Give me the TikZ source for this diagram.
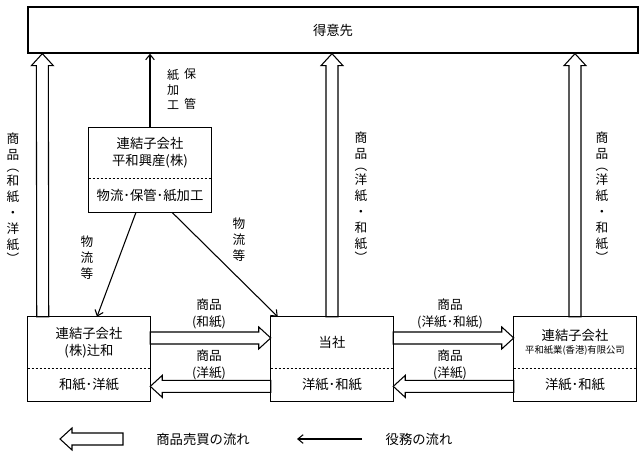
\documentclass[tikz,border=0pt]{standalone}
\usepackage{fontspec}
\setmainfont{Noto Sans CJK JP}
\usetikzlibrary{calc,arrows.meta}

\tikzset{
  part/.style={minimum width=91.5pt, inner sep=0pt, align=center},
  upper/.style={part, minimum height=38.25pt},
  lower/.style={part, minimum height=24.75pt, anchor=north},
  frame/.style={line width=1pt},
  divider/.style={line width=0.8pt, dash pattern=on 2pt off 1pt},
  service/.style={line width=0.8pt, -{Straight Barb[length=4pt,width=6.5pt]}},
  goods/.style={draw, fill=white, line width=0.8pt, line join=miter, to path={
    let \p1=(\tikztostart), \p2=(\tikztotarget),
        \n1={atan2(\y2-\y1,\x2-\x1)}, \n2={veclen(\x2-\x1,\y2-\y1)} in
    [shift={(\p1)}, rotate=\n1]
    (0pt,-4.5pt) -- ({(\n2-9)*1pt},-4.5pt) -- ({(\n2-9)*1pt},-8.25pt)
    -- ({\n2*1pt},0pt) -- ({(\n2-9)*1pt},8.25pt) -- ({(\n2-9)*1pt},4.5pt)
    -- (0pt,4.5pt) -- cycle}},
  lbl/.style={align=center, inner sep=0pt, font=\fontsize{9.5}{12}\selectfont},
}
\def\boxnode{\node[upper]}

\begin{document}
\begin{tikzpicture}[x=0.75pt,y=-0.75pt,font=\fontsize{10}{12.75}\selectfont]
\useasboundingbox (0,0) rectangle (642,456);
% customers
\node[draw,frame,minimum width=457.5pt,minimum height=34.5pt] (top) at (333,30) {得意先};

% companies
\boxnode (heiwa) at (150,153) {連結子会社\\平和興産(株)};
\node[lower] (heiwab) at (heiwa.south) {物流･保管･紙加工};
\boxnode (tsuji) at (89,342.5) {連結子会社\\(株)辻和};
\node[lower] (tsujib) at (tsuji.south) {和紙･洋紙};
\boxnode (self) at (332,342.5) {当社};
\node[lower] (selfb) at (self.south) {洋紙･和紙};
\boxnode (hk) at (575,342.5) {連結子会社\\[-3pt]{\fontsize{7}{9}\selectfont 平和紙業(香港)有限公司}};
\node[lower] (hkb) at (hk.south) {洋紙･和紙};
\foreach \u/\l in {heiwa/heiwab, tsuji/tsujib, self/selfb, hk/hkb} {
  \draw[frame] (\u.north west) rectangle (\l.south east);
  \draw[divider] (\u.south west) -- (\u.south east);
}

% goods
\draw[goods] ([xshift=11.25pt]tsuji.north west) to ([xshift=11.25pt]top.south west);
\draw[goods] (self.north) to (self.north |- top.south);
\draw[goods] (hk.north) to (hk.north |- top.south);
\draw[goods] ([yshift=3.4pt]tsuji.east) to ([yshift=3.4pt]self.west);
\draw[goods] ([yshift=3.4pt]self.east) to ([yshift=3.4pt]hk.west);
\draw[goods] ([yshift=-1pt]hkb.west) to ([yshift=-1pt]selfb.east);
\draw[goods] ([yshift=-1pt]selfb.west) to ([yshift=-1pt]tsujib.east);

% services
\draw[service] (heiwa.north) -- (heiwa.north |- top.south);
\draw[service] ([xshift=-10.5pt]heiwab.south) -- ([xshift=6pt]tsuji.north);
\draw[service] ([xshift=16.5pt]heiwab.south) -- ([xshift=5.25pt]self.north west);

% labels
\node[lbl] (lblA) at (13,198) {商\\品\\[-2.5pt]︵\\[-2pt]和\\紙\\・\\洋\\紙\\[-1.5pt]︶};
\node[lbl] (lblB) at (361,197) {商\\品\\[-2.5pt]︵\\[-2pt]洋\\紙\\・\\和\\紙\\[-1.5pt]︶};
\node[lbl] (lblC) at (602,197) {商\\品\\[-2.5pt]︵\\[-2pt]洋\\紙\\・\\和\\紙\\[-1.5pt]︶};
\node[lbl,font=\fontsize{9}{11.25}\selectfont] (lblD) at (173,89) {紙\\加\\工};
\node[lbl,font=\fontsize{9}{11.25}\selectfont] (lblE) at (190,89) {保\\\mbox{}\\管};
\node[lbl] (lblF) at (87,258) {物\\流\\等};
\node[lbl] (lblG) at (239,240) {物\\流\\等};
\node[lbl,font=\fontsize{9.5}{12.75}\selectfont] (lblH) at (209,313.5) {商品\\(和紙)};
\node[lbl,font=\fontsize{9.5}{12.75}\selectfont] (lblI) at (209,365) {商品\\(洋紙)};
\node[lbl,font=\fontsize{9.5}{12.75}\selectfont] (lblJ) at (450,313.5) {商品\\(洋紙･和紙)};
\node[lbl,font=\fontsize{9.5}{12.75}\selectfont] (lblK) at (450,365) {商品\\(洋紙)};

% legend
\coordinate (g1) at (123,439);
\coordinate (g2) at (60,439);
\coordinate (s1) at (362,439);
\coordinate (s2) at (297,439);
\draw[goods] (g1) to (g2);
\draw[service] (s1) -- (s2);
\node (goodsTxt) at (203,439) {商品売買の流れ};
\node (serviceTxt) at (419,439) {役務の流れ};
\end{tikzpicture}
\end{document}
